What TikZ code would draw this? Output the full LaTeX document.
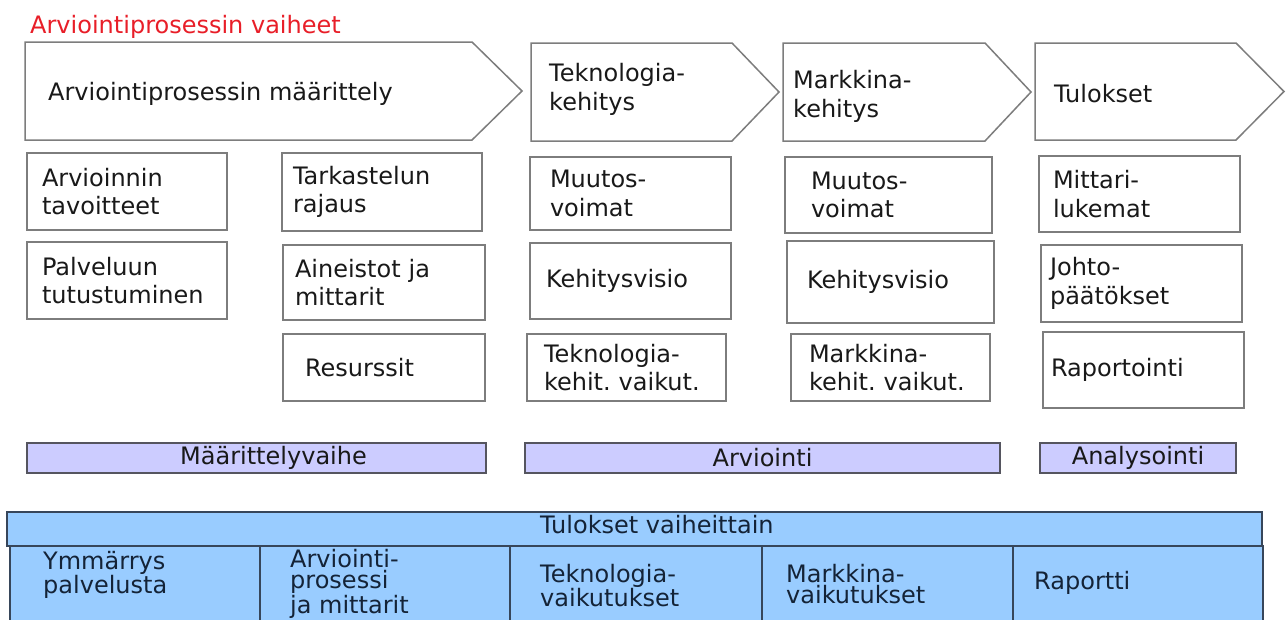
\documentclass[tikz,border=0pt]{standalone}
\usepackage{fontspec}
\setmainfont{DejaVu Sans}
\frenchspacing

\definecolor{titlered}{RGB}{232,30,40}
\definecolor{boxgray}{RGB}{125,125,125}
\definecolor{txt}{RGB}{25,25,25}
\definecolor{barfill}{RGB}{204,204,255}
\definecolor{barline}{RGB}{85,85,95}
\definecolor{tabfill}{RGB}{153,204,255}
\definecolor{tabline}{RGB}{55,70,90}
\definecolor{tabtext}{RGB}{20,35,55}

\begin{document}
\begin{tikzpicture}[x=1pt, y=-1pt,
  phase/.style = {draw=boxgray, line width=1.5pt, fill=white},
  phasetext/.style = {anchor=west, align=left, inner sep=0pt, text=txt, font=\fontsize{24}{28.8}\selectfont},
  sub/.style = {draw=boxgray, line width=1.5pt, fill=white, align=left, inner ysep=0pt, text=txt, font=\fontsize{24}{28.5}\selectfont},
  bar/.style = {draw=barline, fill=barfill, line width=1.5pt, minimum height=30, inner sep=0pt, text=txt, font=\fontsize{24}{28.8}\selectfont},
  tab/.style = {draw=tabline, fill=tabfill, line width=1.6pt},
  celltext/.style = {anchor=north west, align=left, inner sep=0pt, text=tabtext, font=\fontsize{24}{21.5}\selectfont}]

\useasboundingbox (0,0) rectangle (1286,619);

\node[anchor=base west, inner sep=0pt, text=titlered, font=\fontsize{24}{28.8}\selectfont] (title) at (30,33) {Arviointiprosessin vaiheet};

% vaiheet
\draw[phase] (25,42) -- (472,42) -- (522,91) -- (472,140) -- (25,140) -- cycle;
\draw[phase] (531,43) -- (732,43) -- (779,92) -- (732,141) -- (531,141) -- cycle;
\draw[phase] (783,43) -- (985,43) -- (1031,92) -- (985,141) -- (783,141) -- cycle;
\draw[phase] (1035,43) -- (1236,43) -- (1284,91.5) -- (1236,140) -- (1035,140) -- cycle;

\node[phasetext] (P1) at (48,94) {Arviointiprosessin määrittely};
\node[phasetext] (P2) at (549,89.5) {Teknologia-\\kehitys};
\node[phasetext] (P3) at (793,96) {Markkina-\\kehitys};
\node[phasetext] (P4) at (1054,93.5) {Tulokset};

% maarittely
\node[sub, minimum width=200, minimum height=77, inner xsep=15, text width=170pt] (A1) at (127,191.5) {Arvioinnin\\tavoitteet};
\node[sub, minimum width=200, minimum height=77, inner xsep=15, text width=170pt] (A2) at (127,280.5) {Palveluun\\tutustuminen};

\node[sub, minimum width=200, minimum height=78, inner xsep=11, text width=178pt] (B1) at (382,192) {Tarkastelun\\rajaus};
\node[sub, minimum width=202, minimum height=75, inner xsep=12, text width=178pt] (B2) at (384,282.5) {Aineistot ja\\mittarit};
\node[sub, minimum width=202, minimum height=67, inner xsep=22, text width=158pt] (B3) at (384,367.5) {Resurssit};

% teknologia
\node[sub, minimum width=201, minimum height=73, inner xsep=20, text width=161pt] (C1) at (630.5,193.5) {Muutos-\\voimat};
\node[sub, minimum width=201, minimum height=76, inner xsep=16, text width=169pt] (C2) at (630.5,281) {Kehitysvisio};
\node[sub, minimum width=199, minimum height=67, inner xsep=17, text width=165pt] (C3) at (626.5,367.5) {Teknologia-\\kehit. vaikut.};

% markkina
\node[sub, minimum width=207, minimum height=76, inner xsep=26, text width=155pt] (D1) at (888.5,195) {Muutos-\\voimat};
\node[sub, minimum width=207, minimum height=82, inner xsep=20, text width=167pt] (D2) at (890.5,282) {Kehitysvisio};
\node[sub, minimum width=199, minimum height=67, inner xsep=18, text width=163pt] (D3) at (890.5,367.5) {Markkina-\\kehit. vaikut.};

% tulokset
\node[sub, minimum width=201, minimum height=76, inner xsep=14, text width=173pt] (E1) at (1139.5,194) {Mittari-\\lukemat};
\node[sub, minimum width=201, minimum height=77, inner xsep=9, text width=183pt] (E2) at (1141.5,283.5) {Johto-\\päätökset};
\node[sub, minimum width=201, minimum height=76, inner xsep=8, text width=185pt] (E3) at (1143.5,370) {Raportointi};

% vaiheiden nimet
\node[bar, minimum width=459] (M1) at (256.5,458) {\hspace*{34pt}Määrittelyvaihe};
\node[bar, minimum width=475] (M2) at (762.5,458) {Arviointi};
\node[bar, minimum width=196] (M3) at (1138,458) {Analysointi};

% tulokset vaiheittain
\fill[tabfill] (10,546) rectangle (1263,625);
\draw[tabline, line width=1.6pt] (10,625) -- (10,546) -- (1263,546) -- (1263,625);
\draw[tabline, line width=1.6pt] (260,546) -- (260,625);
\draw[tabline, line width=1.6pt] (510,546) -- (510,625);
\draw[tabline, line width=1.6pt] (762,546) -- (762,625);
\draw[tabline, line width=1.6pt] (1013,546) -- (1013,625);
\draw[tab] (7,512) rectangle (1262,546);

\node[anchor=base west, inner sep=0pt, text=tabtext, font=\fontsize{24}{28.8}\selectfont] (TV) at (540,533) {Tulokset vaiheittain};

\node[celltext] (T1) at (43,551) {Ymmärrys\\palvelusta};
\node[celltext] (T2) at (290,549) {Arviointi-\\prosessi\\ja mittarit};
\node[celltext] (T3) at (540,563.8) {Teknologia-\\vaikutukset};
\node[celltext] (T4) at (786,563.8) {Markkina-\\vaikutukset};
\node[celltext] (T5) at (1034,570.8) {Raportti};

\end{tikzpicture}
\end{document}
